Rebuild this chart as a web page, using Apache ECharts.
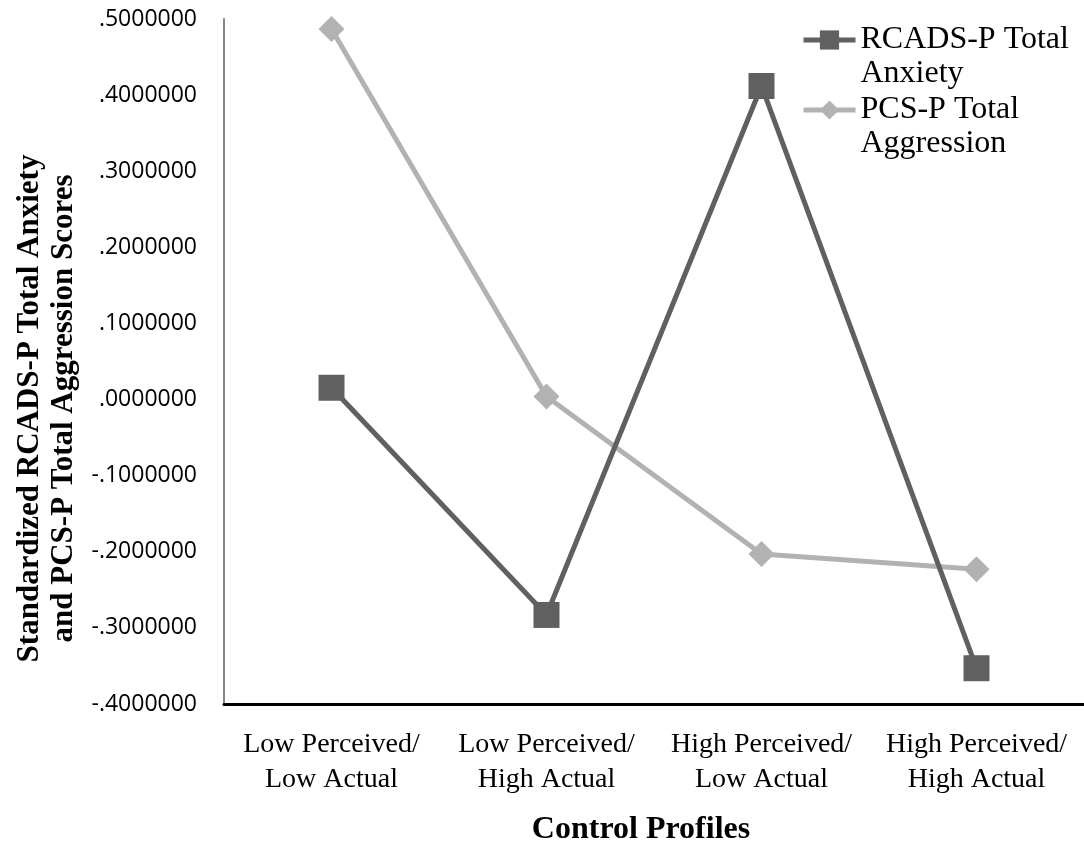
<!DOCTYPE html>
<html>
<head>
<meta charset="utf-8">
<script src="https://cdn.jsdelivr.net/npm/echarts@6/dist/echarts.min.js"></script>
<style>html,body{margin:0;padding:0;background:#fff;}#c{width:1084px;height:843px;}</style>
</head>
<body>
<div id="c"></div>
<script>
var categories = ['Low Perceived/\nLow Actual', 'Low Perceived/\nHigh Actual', 'High Perceived/\nLow Actual', 'High Perceived/\nHigh Actual'];
var rcadsAnxiety = [0.0155, -0.283, 0.412, -0.353];
var pcsAggression = [0.487, 0.004, -0.203, -0.223];
var seriesNames = ['RCADS-P Total\nAnxiety', 'PCS-P Total\nAggression'];
var yTitle = 'Standardized RCADS-P Total Anxiety\nand PCS-P Total Aggression Scores';
var xTitle = 'Control Profiles';

function fmt(v) {
  var s = Math.abs(v).toFixed(7).replace(/^0/, '');
  return (v < -1e-9 ? '-' : '') + s;
}

var serif = '"Liberation Serif", "Times New Roman", serif';
var chart = echarts.init(document.getElementById('c'), null, {renderer: 'canvas'});
chart.setOption({
  animation: false,
  backgroundColor: '#fff',
  grid: {left: 224, right: 0, top: 19, bottom: 139, containLabel: false, outerBoundsMode: 'none'},
  legend: {
    orient: 'vertical',
    left: 801,
    top: -11,
    padding: 0,
    itemGap: -32,
    itemWidth: 52,
    itemHeight: 24,
    lineStyle: {width: 5},
    formatter: function (name) { return ' \n' + name; },
    textStyle: {fontFamily: serif, fontSize: 32, color: '#000', lineHeight: 34},
    data: seriesNames
  },
  xAxis: {
    type: 'category',
    data: categories,
    boundaryGap: true,
    axisLine: {onZero: false, lineStyle: {color: '#000', width: 3}},
    axisTick: {show: false},
    axisLabel: {fontFamily: serif, fontSize: 28, color: '#000', lineHeight: 35, margin: 23, interval: 0},
    name: xTitle,
    nameLocation: 'middle',
    nameGap: 110,
    nameTextStyle: {fontFamily: serif, fontSize: 32, fontWeight: 'bold', color: '#000', padding: [0, 26, 0, 0]}
  },
  yAxis: {
    type: 'value',
    min: -0.4,
    max: 0.5,
    interval: 0.1,
    splitLine: {show: false},
    axisLine: {show: true, lineStyle: {color: '#868686', width: 2}},
    axisTick: {show: false},
    axisLabel: {fontFamily: '"Open Sans", sans-serif', fontSize: 23, color: '#000', margin: 27, formatter: fmt},
    name: yTitle,
    nameLocation: 'middle',
    nameGap: 140,
    nameRotate: 90,
    nameTextStyle: {fontFamily: serif, fontSize: 31, fontWeight: 'bold', color: '#000', lineHeight: 34, padding: [0, 94, 0, 0]}
  },
  series: [
    {
      name: seriesNames[0],
      type: 'line',
      data: rcadsAnxiety,
      z: 3,
      symbol: 'rect',
      symbolSize: 26,
      lineStyle: {color: '#606060', width: 5},
      itemStyle: {color: '#606060'}
    },
    {
      name: seriesNames[1],
      type: 'line',
      data: pcsAggression,
      z: 2,
      symbol: 'diamond',
      symbolSize: 26,
      lineStyle: {color: '#b2b2b2', width: 5},
      itemStyle: {color: '#b2b2b2'}
    }
  ]
});
</script>
</body>
</html>
